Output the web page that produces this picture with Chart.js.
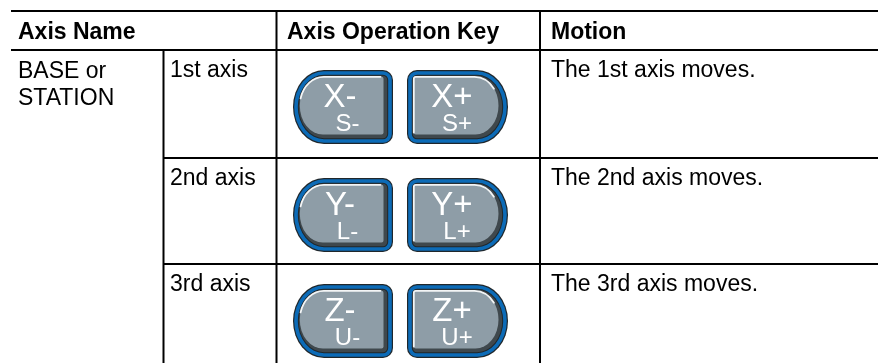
<!DOCTYPE html>
<html>
<head>
<meta charset="utf-8">
<script src="https://cdn.jsdelivr.net/npm/chart.js@4.4.1/dist/chart.umd.min.js"></script>
<style>
  html, body { margin: 0; padding: 0; background: #ffffff; }
  #wrap { width: 878px; height: 363px; }
</style>
</head>
<body>
<div id="wrap"><canvas id="c" width="878" height="363"></canvas></div>
<script>
// ---- table content ----
const headers = ['Axis Name', 'Axis Operation Key', 'Motion'];
const groupName = ['BASE or', 'STATION'];
const axisNames = ['1st axis', '2nd axis', '3rd axis'];
const minusKeys = ['X-', 'Y-', 'Z-'];
const minusSubKeys = ['S-', 'L-', 'U-'];
const plusKeys = ['X+', 'Y+', 'Z+'];
const plusSubKeys = ['S+', 'L+', 'U+'];
const motions = ['The 1st axis moves.', 'The 2nd axis moves.', 'The 3rd axis moves.'];

// ---- layout (in scale units) ----
const colEdges = [11, 163.5, 276.5, 540, 878];
const rowEdges = [11, 50, 158, 264, 363];
const textX = [18, 170, 287, 551];
const minusKeyX = [293, 393];
const plusKeyX = [407, 508];
const keyTopOffset = 19, keyHeight = 74;

const FONT = '"Liberation Sans", Arial, Helvetica, sans-serif';

function keyPath(ctx, x0, y0, x1, y1, bigSide, rx, r) {
  const ry = (y1 - y0) / 2, cy = (y0 + y1) / 2;
  r = Math.max(r, 0.1);
  ctx.beginPath();
  if (bigSide === 'left') {
    ctx.moveTo(x0 + rx, y0);
    ctx.lineTo(x1 - r, y0);
    ctx.arcTo(x1, y0, x1, y0 + r, r);
    ctx.lineTo(x1, y1 - r);
    ctx.arcTo(x1, y1, x1 - r, y1, r);
    ctx.lineTo(x0 + rx, y1);
    ctx.ellipse(x0 + rx, cy, rx, ry, 0, Math.PI / 2, Math.PI * 1.5);
  } else {
    ctx.moveTo(x0 + r, y0);
    ctx.lineTo(x1 - rx, y0);
    ctx.ellipse(x1 - rx, cy, rx, ry, 0, -Math.PI / 2, Math.PI / 2);
    ctx.lineTo(x0 + r, y1);
    ctx.arcTo(x0, y1, x0, y1 - r, r);
    ctx.lineTo(x0, y0 + r);
    ctx.arcTo(x0, y0, x0 + r, y0, r);
  }
  ctx.closePath();
}

function drawKey(ctx, x0, y0, x1, y1, side, big, sub, bigCx, subCx) {
  const RX = 31, R = 10;
  const layer = (d, color) => {
    keyPath(ctx, x0 + d, y0 + d, x1 - d, y1 - d, side, RX - d, R - d);
    ctx.fillStyle = color; ctx.fill();
  };
  layer(0, '#20272b');
  layer(1.2, '#0c6bb7');
  layer(4.8, '#20272b');
  layer(5.8, '#3f484d');
  // face (shadow visible on right/bottom)
  const fx0 = x0 + 6.8, fy0 = y0 + 6.8, fx1 = x1 - 9.5, fy1 = y1 - 9.5;
  keyPath(ctx, fx0, fy0, fx1, fy1, side, RX - 8, R - 8);
  ctx.fillStyle = '#8e9da7'; ctx.fill();
  // highlight
  ctx.save();
  ctx.strokeStyle = '#f3f5f6';
  ctx.lineWidth = 1.8;
  ctx.lineCap = 'round';
  const hx0 = x0 + 6.8, hy0 = y0 + 6.8;
  ctx.beginPath();
  const rx = RX - 7, ry = (fy1 - hy0) / 2, cy = (hy0 + fy1) / 2;
  if (side === 'left') {
    ctx.ellipse(hx0 + rx, cy, rx, ry, 0, Math.PI * 1.08, Math.PI * 1.5);
    ctx.lineTo(fx1 - 3, hy0);
  } else {
    ctx.moveTo(hx0, fy1 - 2);
    ctx.lineTo(hx0, hy0 + 2);
    ctx.quadraticCurveTo(hx0, hy0, hx0 + 2, hy0);
    ctx.lineTo(fx1 - rx, hy0);
    ctx.ellipse(fx1 - rx, cy, rx, ry, 0, -Math.PI / 2, -Math.PI * 0.2);
  }
  ctx.stroke();
  ctx.restore();
  // labels
  ctx.fillStyle = '#ffffff';
  ctx.textAlign = 'center';
  ctx.textBaseline = 'alphabetic';
  ctx.font = '33px ' + FONT;
  ctx.fillText(big, bigCx, y0 + 37);
  ctx.font = '24px ' + FONT;
  ctx.fillText(sub, subCx, y0 + 61);
}

const tablePlugin = {
  id: 'tablePlugin',
  afterDraw(chart) {
    const ctx = chart.ctx;
    const xs = chart.scales.x, ys = chart.scales.y;
    const X = v => xs.getPixelForValue(v);
    const Y = v => ys.getPixelForValue(v);
    ctx.save();
    // grid lines
    ctx.strokeStyle = '#000000';
    ctx.lineWidth = 2;
    const line = (a, b, c, d) => { ctx.beginPath(); ctx.moveTo(X(a), Y(b)); ctx.lineTo(X(c), Y(d)); ctx.stroke(); };
    line(colEdges[0], rowEdges[0], colEdges[4], rowEdges[0]);
    line(colEdges[0], rowEdges[1], colEdges[4], rowEdges[1]);
    line(colEdges[1], rowEdges[2], colEdges[4], rowEdges[2]);
    line(colEdges[1], rowEdges[3], colEdges[4], rowEdges[3]);
    line(colEdges[1], rowEdges[1], colEdges[1], rowEdges[4]);
    line(colEdges[2], rowEdges[0], colEdges[2], rowEdges[4]);
    line(colEdges[3], rowEdges[0], colEdges[3], rowEdges[4]);

    // headers
    ctx.fillStyle = '#000000';
    ctx.textAlign = 'left';
    ctx.textBaseline = 'alphabetic';
    ctx.font = 'bold 23px ' + FONT;
    ctx.fillText(headers[0], X(textX[0]), Y(39));
    ctx.fillText(headers[1], X(textX[2]), Y(39));
    ctx.fillText(headers[2], X(textX[3]), Y(39));

    // body text
    ctx.font = '23px ' + FONT;
    groupName.forEach((t, i) => ctx.fillText(t, X(textX[0]), Y(rowEdges[1] + 27.5 + i * 27)));
    axisNames.forEach((t, i) => {
      const base = rowEdges[i + 1] + 27;
      ctx.fillText(t, X(textX[1]), Y(base));
      ctx.fillText(motions[i], X(textX[3]), Y(base));
    });

    // keys
    minusKeys.forEach((k, i) => {
      const rowTop = rowEdges[i + 1] + 1;
      const top = Y(rowTop + keyTopOffset);
      const bot = Y(rowTop + keyTopOffset + keyHeight);
      drawKey(ctx, X(minusKeyX[0]), top, X(minusKeyX[1]), bot, 'left', k, minusSubKeys[i], X(340), X(347.5));
      drawKey(ctx, X(plusKeyX[0]), top, X(plusKeyX[1]), bot, 'right', plusKeys[i], plusSubKeys[i], X(452), X(457));
    });
    ctx.restore();
  }
};

new Chart(document.getElementById('c'), {
  type: 'scatter',
  data: { datasets: [{ data: [], pointRadius: 0 }] },
  options: {
    responsive: false,
    animation: false,
    devicePixelRatio: 1,
    layout: { padding: 0 },
    plugins: { legend: { display: false }, tooltip: { enabled: false }, title: { display: false } },
    scales: {
      x: { type: 'linear', min: 0, max: 878, display: false },
      y: { type: 'linear', min: 0, max: 363, reverse: true, display: false }
    }
  },
  plugins: [tablePlugin]
});
</script>
</body>
</html>
